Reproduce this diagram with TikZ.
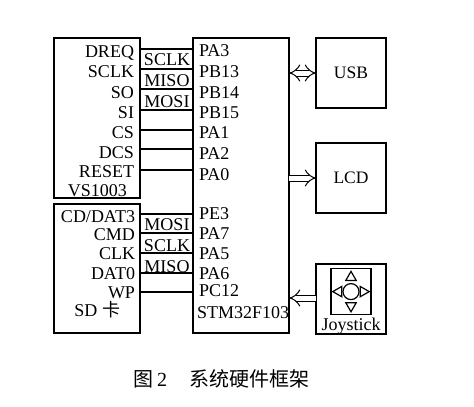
\documentclass[tikz,border=0pt]{standalone}
\usepackage{fontspec}
\setmainfont{Liberation Serif}
\newfontfamily\cjkfont{Noto Sans CJK SC}
\usepackage{tikz}
\usetikzlibrary{arrows.meta,positioning,shapes.geometric}

\begin{document}
\begin{tikzpicture}[
    x=1pt, y=-1pt,
    block/.style={draw, line width=1.2pt, inner sep=0pt, outer sep=0pt, font=\fontsize{17.5}{20}\selectfont},
    lbl/.style={inner sep=0pt, outer sep=0pt, text height=12pt, text depth=0pt,
                font=\fontsize{18}{20}\selectfont},
    wire/.style={line width=1.1pt},
    bus/.style={line width=1pt, double, double distance=5pt, >={Implies[length=9pt,width=15pt]}},
    tri/.style={draw, regular polygon, regular polygon sides=3, line width=1.2pt,
                inner sep=0pt, minimum size=12pt}
  ]
    \useasboundingbox (0,0) rectangle (474,407);

    \node[block, anchor=north west, minimum width=86pt, minimum height=160pt] (vs) at (54,38) {};
    \node[block, minimum width=86pt, minimum height=129pt] (sd)  [below=6pt of vs] {};
    \node[block, minimum width=96pt, minimum height=295pt] (stm) [below right=0pt and 53pt of vs.north east] {};
    \node[block, minimum width=70pt, minimum height=70pt]  (usb) [below right=0pt and 27pt of stm.north east] {USB};
    \node[block, minimum width=70pt, minimum height=70pt]  (lcd) [below=35pt of usb] {LCD};
    \node[block, minimum width=70pt, minimum height=70pt]  (joy) [below=51pt of lcd] {};

    % VS1003 pins
    \node[lbl] (dreq)  [below left=7pt and 6pt of vs.north east] {DREQ};
    \node[lbl] (sclk)  [below left=8pt and 0pt of dreq.south east]  {SCLK};
    \node[lbl] (so)    [below left=9pt and 0pt of sclk.south east]  {SO};
    \node[lbl] (si)    [below left=8pt and 0pt of so.south east]    {SI};
    \node[lbl] (cs)    [below left=8pt and 0pt of si.south east]    {CS};
    \node[lbl] (dcs)   [below left=8pt and 0pt of cs.south east]    {DCS};
    \node[lbl] (reset) [below left=7pt and 0pt of dcs.south east]   {RESET};
    \node[lbl] (vsname) [below left=7pt and 7pt of reset.south east] {VS1003};

    % SD pins
    \node[lbl] (dat3)  [below left=6pt and 5pt of sd.north east]    {CD/DAT3};
    \node[lbl] (cmd)   [below left=6pt and 0pt of dat3.south east]  {CMD};
    \node[lbl] (clk)   [below left=7pt and 0pt of cmd.south east]   {CLK};
    \node[lbl] (dat0)  [below left=8pt and 0pt of clk.south east]   {DAT0};
    \node[lbl] (wp)    [below left=7pt and 0pt of dat0.south east]  {WP};
    \node[lbl] (sdname) [below left=6pt and 15pt of wp.south east]  {SD {\cjkfont 卡}};

    % STM32 pins
    \node[lbl] (pa3)  [below right=6pt and 6pt of stm.north west]   {PA3};
    \node[lbl] (pb13) [below right=9pt and 0pt of pa3.south west]   {PB13};
    \node[lbl] (pb14) [below right=9pt and 0pt of pb13.south west]  {PB14};
    \node[lbl] (pb15) [below right=8pt and 0pt of pb14.south west]  {PB15};
    \node[lbl] (pa1)  [below right=8pt and 0pt of pb15.south west]  {PA1};
    \node[lbl] (pa2)  [below right=9pt and 0pt of pa1.south west]   {PA2};
    \node[lbl] (pa0)  [below right=9pt and 0pt of pa2.south west]   {PA0};
    \node[lbl] (pe3)  [below right=27pt and 0pt of pa0.south west]  {PE3};
    \node[lbl] (pa7)  [below right=8pt and 0pt of pe3.south west]   {PA7};
    \node[lbl] (pa5)  [below right=8pt and 0pt of pa7.south west]   {PA5};
    \node[lbl] (pa6)  [below right=8pt and 0pt of pa5.south west]   {PA6};
    \node[lbl] (pc12) [below right=5pt and 0pt of pa6.south west]   {PC12};
    \node[lbl] (stmname) [below right=10pt and -2pt of pc12.south west] {STM32F103};

    % wires
    \coordinate (w1) at (140,49);
    \coordinate (w2) at (140,69);
    \coordinate (w3) at (140,89);
    \coordinate (w4) at (140,110);
    \coordinate (w5) at (140,130);
    \coordinate (w6) at (140,149);
    \coordinate (w7) at (140,170);
    \coordinate (w8) at (140,214);
    \coordinate (w9) at (140,233);
    \coordinate (w10) at (140,253);
    \coordinate (w11) at (140,273);
    \coordinate (w12) at (140,292);
    \coordinate (jout) at (316,298);

    \draw[wire] (w1) -- (w1 -| stm.west);
    \draw[wire] (w2) -- (w2 -| stm.west);
    \draw[wire] (w3) -- (w3 -| stm.west);
    \draw[wire] (w4) -- (w4 -| stm.west);
    \draw[wire] (w5) -- (w5 -| stm.west);
    \draw[wire] (w6) -- (w6 -| stm.west);
    \draw[wire] (w7) -- (w7 -| stm.west);
    \draw[wire] (w8) -- (w8 -| stm.west);
    \draw[wire] (w9) -- (w9 -| stm.west);
    \draw[wire] (w10) -- (w10 -| stm.west);
    \draw[wire] (w11) -- (w11 -| stm.west);
    \draw[wire] (w12) -- (w12 -| stm.west);

    \node[lbl] (sclka) at (167,59)  {SCLK};
    \node[lbl] (misoa) at (167,80)  {MISO};
    \node[lbl] (mosia) at (167,101) {MOSI};
    \node[lbl] (mosib) at (167,224) {MOSI};
    \node[lbl] (sclkb) at (167,245) {SCLK};
    \node[lbl] (misob) at (167,266) {MISO};

    % joystick
    \node[draw, line width=1.2pt, minimum width=40pt, minimum height=46pt, inner sep=0pt] (pad)
        [below=4pt of joy.north] {};
    \node[draw, circle, line width=1.2pt, minimum size=16pt, inner sep=0pt] (knob) at (pad.center) {};
    \node[tri, shape border rotate=0]   (up)    [above=2pt of knob] {};
    \node[tri, shape border rotate=180] (down)  [below=2pt of knob] {};
    \node[tri, shape border rotate=90]  (leftt) [left=0pt of knob] {};
    \node[tri, shape border rotate=-90] (rightt) [right=0pt of knob] {};
    \node[lbl] (joyname) [below=3pt of pad] {Joystick};

    % buses
    \draw[bus, <->] (stm.east |- usb.west) -- (usb.west);
    \draw[bus, ->] (stm.east |- lcd.west) -- (lcd.west);
    \draw[bus, ->] (jout) -- (jout -| stm.east);

    % caption
    \node[lbl, anchor=west] (fig) at (133,380) {\cjkfont\fontsize{20}{22}\selectfont 图\hspace{4pt}{\rmfamily 2}\hspace{22pt}系统硬件框架};
  \end{tikzpicture}
\end{document}
